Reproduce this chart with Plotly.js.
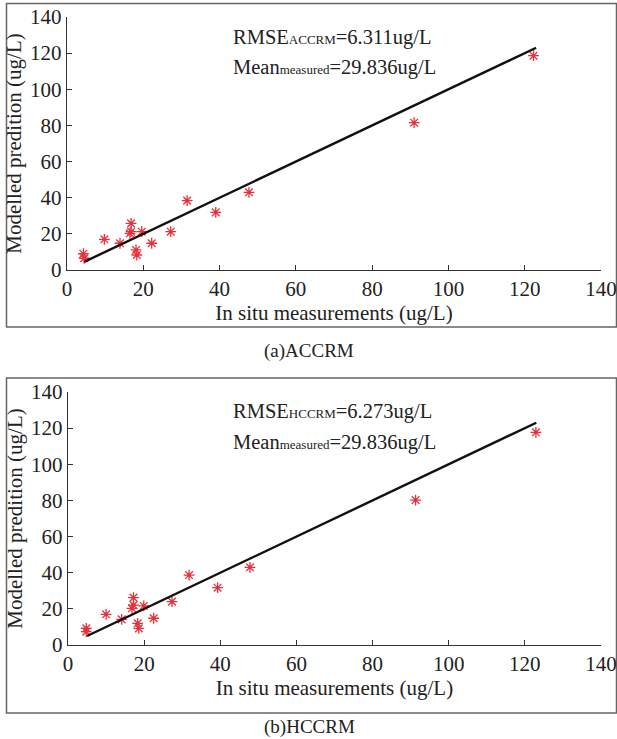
<!DOCTYPE html>
<html>
<head>
<meta charset="utf-8">
<script src="https://cdn.plot.ly/plotly-3.0.1.min.js"></script>
<style>html,body{margin:0;padding:0;background:#fff}#chart{width:617px;height:739px}</style>
</head>
<body>
<div id="chart"></div>
<script>
// In situ measurements (ug/L)
const measuredA = [4.3, 4.5, 9.8, 13.9, 16.8, 16.8, 16.5, 19.6, 18.1, 18.3, 22.2, 27.2, 31.5, 39.0, 47.7, 91.0, 122.3];
const predictedA = [9.0, 6.5, 17.0, 14.8, 25.8, 21.2, 20.3, 21.2, 11.1, 8.3, 14.8, 21.2, 38.4, 31.9, 43.0, 81.5, 118.6];
const measuredB = [4.8, 4.8, 10.0, 14.1, 17.2, 17.2, 16.8, 19.9, 18.3, 18.6, 22.5, 27.3, 31.8, 39.3, 47.8, 91.3, 122.9];
const predictedB = [9.2, 7.4, 17.0, 14.2, 26.2, 22.1, 20.3, 21.6, 12.0, 9.2, 14.8, 24.0, 38.7, 31.7, 43.0, 80.2, 117.7];
const lineA = [4.5, 123.0];
const lineB = [5.0, 123.0];
const tickVals = [0, 20, 40, 60, 80, 100, 120, 140];
const captions = ["(a)ACCRM", "(b)HCCRM"];

const W = 617, H = 739;
const px = x => x / W;
const py = y => 1 - y / H;
const FONT = "Liberation Serif";
const markerStyle = {symbol: "asterisk-open", size: 9, color: "#e8303a", line: {color: "#e8303a", width: 1.3}};

const traces = [
  {x: measuredA, y: predictedA, mode: "markers", type: "scatter", marker: markerStyle, xaxis: "x", yaxis: "y"},
  {x: lineA, y: lineA, mode: "lines", type: "scatter", line: {color: "#111", width: 2.4}, xaxis: "x", yaxis: "y"},
  {x: measuredB, y: predictedB, mode: "markers", type: "scatter", marker: markerStyle, xaxis: "x2", yaxis: "y2"},
  {x: lineB, y: lineB, mode: "lines", type: "scatter", line: {color: "#111", width: 2.4}, xaxis: "x2", yaxis: "y2"}
];

function xax(domain, anchor) {
  return {
    domain: domain, anchor: anchor, range: [0, 140], tickvals: tickVals, ticks: "inside", ticklen: 5,
    tickcolor: "#333", showline: true, linecolor: "#333", linewidth: 1.2, showgrid: false, zeroline: false,
    tickfont: {family: FONT, size: 21, color: "#222"},
    title: {text: "In situ measurements (ug/L)", font: {family: FONT, size: 21, color: "#222"}, standoff: 0}
  };
}
function yax(domain, anchor) {
  return {
    domain: domain, anchor: anchor, range: [0, 140], tickvals: tickVals, ticks: "inside", ticklen: 5,
    tickcolor: "#333", showline: true, linecolor: "#333", linewidth: 1.2, showgrid: false, zeroline: false,
    tickfont: {family: FONT, size: 21, color: "#222"},
    title: {text: "Modelled predition (ug/L)", font: {family: FONT, size: 21, color: "#222"}, standoff: 2}
  };
}

const sub = (t) => "<span style='font-size:13px'>" + t + "</span>";
const annFont = {family: FONT, size: 20.5, color: "#222"};
const capFont = {family: FONT, size: 19, color: "#222"};
const annotations = [
  {xref: "paper", yref: "paper", x: px(231), y: py(37), xanchor: "left", yanchor: "middle", showarrow: false, font: annFont,
   text: "RMSE" + sub("ACCRM") + "=6.311ug/L"},
  {xref: "paper", yref: "paper", x: px(231), y: py(68), xanchor: "left", yanchor: "middle", showarrow: false, font: annFont,
   text: "Mean" + sub("measured") + "=29.836ug/L"},
  {xref: "paper", yref: "paper", x: px(231), y: py(411), xanchor: "left", yanchor: "middle", showarrow: false, font: annFont,
   text: "RMSE" + sub("HCCRM") + "=6.273ug/L"},
  {xref: "paper", yref: "paper", x: px(231), y: py(442), xanchor: "left", yanchor: "middle", showarrow: false, font: annFont,
   text: "Mean" + sub("measured") + "=29.836ug/L"},
  {xref: "paper", yref: "paper", x: px(309), y: py(351), xanchor: "center", yanchor: "middle", showarrow: false, font: capFont, text: captions[0]},
  {xref: "paper", yref: "paper", x: px(309), y: py(727), xanchor: "center", yanchor: "middle", showarrow: false, font: capFont, text: captions[1]}
];

const shapes = [
  {type: "rect", xref: "paper", yref: "paper", x0: px(6.5), x1: px(616.5), y0: py(327), y1: py(3.5), line: {color: "#666", width: 1.5}, layer: "below"},
  {type: "rect", xref: "paper", yref: "paper", x0: px(6.5), x1: px(616.5), y0: py(713), y1: py(378), line: {color: "#666", width: 1.5}, layer: "below"}
];

const layout = {
  width: W, height: H, margin: {l: 0, r: 0, t: 0, b: 0}, showlegend: false,
  paper_bgcolor: "#fff", plot_bgcolor: "rgba(0,0,0,0)",
  xaxis: xax([px(67), px(601)], "y"),
  yaxis: yax([py(270), py(17)], "x"),
  xaxis2: xax([px(68), px(601)], "y2"),
  yaxis2: yax([py(645), py(392)], "x2"),
  annotations: annotations, shapes: shapes
};

Plotly.newPlot("chart", traces, layout, {displayModeBar: false, staticPlot: true});
</script>
</body>
</html>
